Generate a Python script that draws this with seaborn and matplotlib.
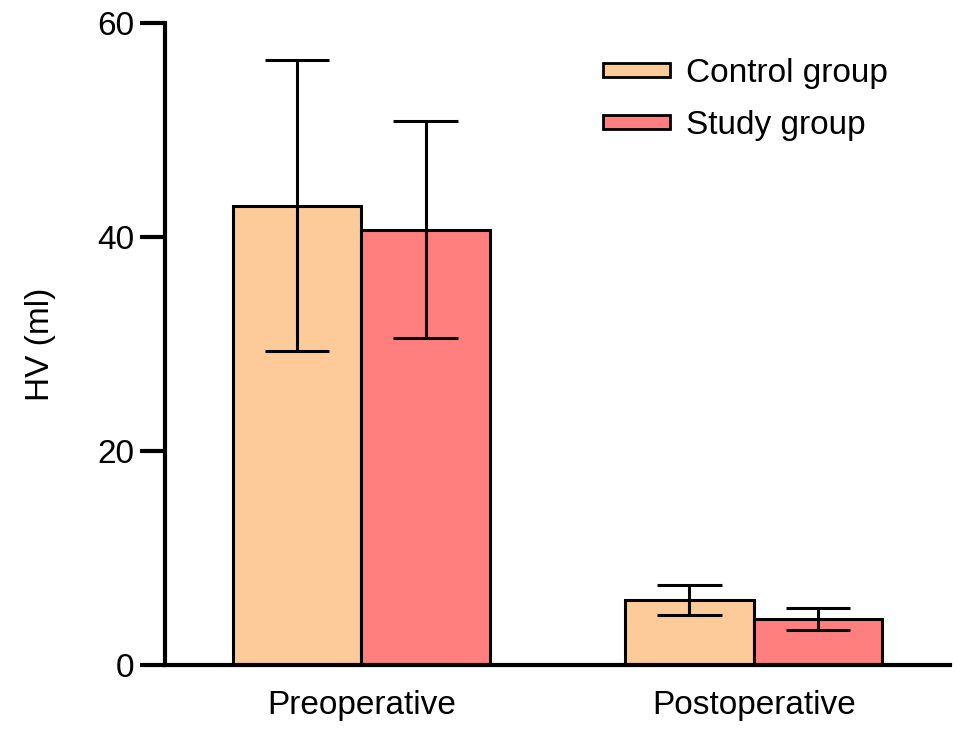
import numpy as np
import pandas as pd
import matplotlib
matplotlib.use('Agg')
import matplotlib.pyplot as plt
import seaborn as sns

# Values (mean and SD, HV in ml)
periods = ['Preoperative', 'Postoperative']
groups = ['Control group', 'Study group']
control_mean = [42.9, 6.1]
control_sd = [13.6, 1.4]
study_mean = [40.7, 4.3]
study_sd = [10.1, 1.0]

colors = ['#FDCB99', '#FF7F7F']

sns.set_theme(style='ticks')
plt.rcParams['font.family'] = ['Liberation Sans', 'DejaVu Sans']
plt.rcParams['text.color'] = 'black'
plt.rcParams['axes.labelcolor'] = 'black'
plt.rcParams['xtick.color'] = 'black'
plt.rcParams['ytick.color'] = 'black'
plt.rcParams['axes.edgecolor'] = 'black'

df = pd.DataFrame({
    'period': periods * 2,
    'group': [groups[0]] * 2 + [groups[1]] * 2,
    'hv': control_mean + study_mean,
    'sd': control_sd + study_sd,
})

fig = plt.figure(figsize=(9.69, 7.33), dpi=100)
ax = fig.add_axes([165 / 969, 1 - 665 / 733, (950 - 165) / 969, (665 - 23) / 733])

sns.barplot(data=df, x='period', y='hv', hue='group', order=periods,
            hue_order=groups, palette=colors, width=0.655, errorbar=None,
            edgecolor='black', linewidth=2.2, saturation=1, ax=ax)

# error bars on top of seaborn's bars (patches come in hue order)
bars = [p for p in ax.patches if p.get_height() > 0]
for bar, (_, row) in zip(bars, df.iterrows()):
    xc = bar.get_x() + bar.get_width() / 2
    half_cap = bar.get_width() / 4
    ax.vlines(xc, row.hv - row.sd, row.hv + row.sd, color='black', lw=2.2, zorder=3)
    ax.hlines([row.hv - row.sd, row.hv + row.sd], xc - half_cap, xc + half_cap,
              color='black', lw=2.2, zorder=3)

ax.set_xlim(-0.5, 1.5)
ax.set_ylim(0, 60)
ax.set_yticks([0, 20, 40, 60])
ax.set_xlabel('')
ax.set_ylabel('HV (ml)', fontsize=24, labelpad=30)
sns.despine(ax=ax)
for s in ['left', 'bottom']:
    ax.spines[s].set_linewidth(3)
ax.tick_params(axis='y', length=18, width=3, labelsize=24, pad=4)
ax.tick_params(axis='x', length=0, labelsize=24, pad=18)

leg = ax.legend(loc='upper left', bbox_to_anchor=((603 - 165) / 785, 0.946),
                frameon=False, borderpad=0, borderaxespad=0,
                fontsize=24, handlelength=2.0, handleheight=0.28,
                labelspacing=0.65, handletextpad=0.5)
for h in leg.legend_handles:
    h.set_linewidth(2)

fig.savefig('out.png', dpi=100)
